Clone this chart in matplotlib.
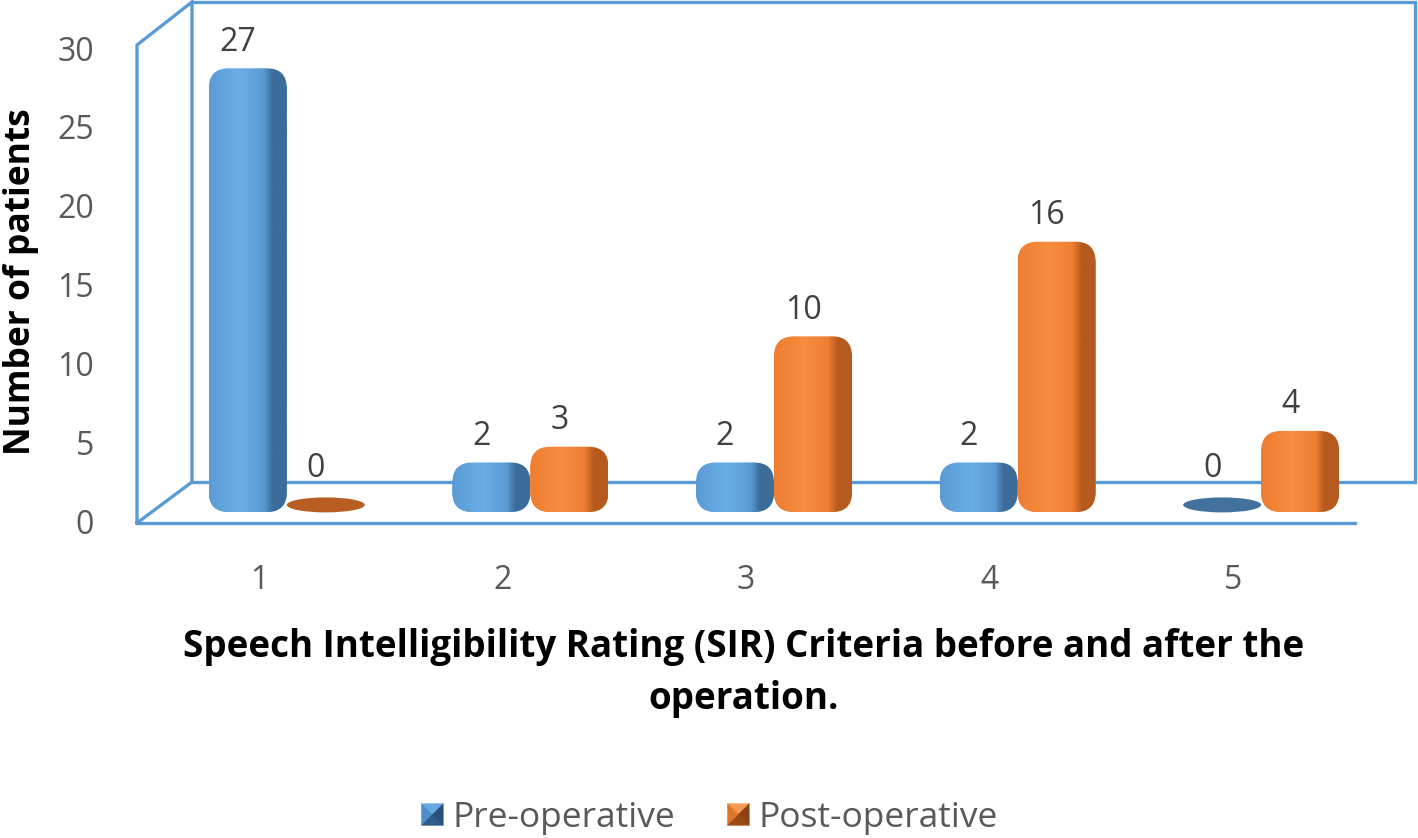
import numpy as np
import matplotlib
matplotlib.use('Agg')
import matplotlib.pyplot as plt
from matplotlib.patches import FancyBboxPatch, Ellipse, Patch, Polygon, BoxStyle
from matplotlib.transforms import ScaledTranslation
from matplotlib.legend_handler import HandlerBase
from matplotlib.colors import LinearSegmentedColormap

# ---------------- data ----------------
categories = ['1', '2', '3', '4', '5']
pre_op = [27, 2, 2, 2, 0]
post_op = [0, 3, 10, 16, 4]
series_names = ['Pre-operative', 'Post-operative']
y_ticks = [0, 5, 10, 15, 20, 25, 30]
x_title = 'Speech Intelligibility Rating (SIR) Criteria before and after the\noperation.'
y_title = 'Number of patients'

# ---------------- style ----------------
plt.rcParams['font.family'] = ['Open Sans', 'DejaVu Sans']
W, H = 1418, 838
fig = plt.figure(figsize=(W / 100, H / 100), dpi=100)

def fx(px):
    return px / W

def fy(py):
    return 1 - py / H

blue = dict(mid='#5B9BD5', light='#6AAEE8', dark='#3C6C9A', flat='#41719C',
            icon=['#6AAAE4', '#4F8FCC', '#2E5C8A', '#27507A'])
orange = dict(mid='#ED7D31', light='#F78E40', dark='#B65A1E', flat='#B85E22',
              icon=['#F59A55', '#E07428', '#9C4B17', '#8A4214'])

# ---------------- 3D frame (decoration) ----------------
frame = fig.add_axes([0, 0, 1, 1], zorder=0)
frame.set_xlim(0, W)
frame.set_ylim(H, 0)
frame.axis('off')
lc = '#5B9BD5'
lw = 2.4
segs = [[(137, 523), (137, 45), (192, 2), (192, 482), (137, 523)],
        [(192, 2), (1415, 2), (1415, 482), (192, 482)],
        [(137, 523), (1355, 523)]]
for s in segs:
    xs, ys = zip(*s)
    frame.plot(xs, ys, color=lc, lw=lw, solid_joinstyle='miter', solid_capstyle='projecting')

# ---------------- main axes ----------------
ax = fig.add_axes([fx(137), fy(521), fx(1355) - fx(137), fy(48) - fy(521)], zorder=1)
ax.patch.set_visible(False)
ax.set_xlim(0.5, 5.5)
ax.set_ylim(0, 30)
for sp in ax.spines.values():
    sp.set_visible(False)
ax.set_yticks(y_ticks)
ax.set_xticks(np.arange(1, len(categories) + 1))
ax.set_xticklabels(categories)
ax.tick_params(length=0, labelsize=23, labelcolor='#595959')
ax.tick_params(axis='x', pad=31)
ax.tick_params(axis='y', pad=31)

px_x = (1355 - 137) / 5.0
px_y = (521 - 48) / 30.0
shift = ax.transData + ScaledTranslation(28 / 100, 9 / 100, fig.dpi_scale_trans)
bw = 78 / px_x
cap = 18 / px_y
rr = 20 / px_x
asp = px_x / px_y

x = np.arange(1, len(categories) + 1)
grad = np.linspace(0, 1, 256).reshape(1, -1)


def draw_series(xpos, vals, c):
    cmap = LinearSegmentedColormap.from_list(
        'g', [(0, c['mid']), (0.40, c['light']), (0.70, c['mid']),
              (0.82, c['dark']), (1.0, c['dark'])])
    bars = ax.bar(xpos, vals, bw, transform=shift, color=c['mid'], lw=0, zorder=2)
    for rect, v in zip(bars, vals):
        x0 = rect.get_x()
        if v > 0:
            rp = FancyBboxPatch((x0, 0), bw, v + cap,
                                boxstyle=BoxStyle.Round(pad=0, rounding_size=rr),
                                mutation_aspect=asp, transform=shift,
                                facecolor='none', edgecolor='none', zorder=2)
            ax.add_patch(rp)
            rect.set_clip_path(rp)
            im = ax.imshow(grad, cmap=cmap, extent=[x0, x0 + bw, 0, v + cap],
                           aspect='auto', origin='lower', transform=shift,
                           zorder=3, interpolation='bilinear')
            im.set_clip_path(rp)
        else:
            e = Ellipse((x0 + bw / 2, 0.45), width=bw, height=15 / px_y,
                        transform=shift, facecolor=c['flat'], edgecolor='none', zorder=2)
            ax.add_patch(e)
    for rect, v in zip(bars, vals):
        xc = rect.get_x() + bw / 2
        ax.annotate(str(v), (xc, v), xycoords=shift, xytext=(-10, 44),
                    textcoords='offset pixels', ha='center', va='center',
                    fontsize=23, color='#404040', zorder=5)
    return bars


b1 = draw_series(x - bw / 2, pre_op, blue)
b2 = draw_series(x + bw / 2, post_op, orange)
ax.set_xlim(0.5, 5.5)
ax.set_ylim(0, 30)

# ---------------- titles ----------------
fig.text(fx(21), fy(282), y_title, rotation=90, ha='center', va='center',
         fontsize=25.5, fontweight='bold', color='black')
fig.text(fx(744), fy(673), x_title, ha='center', va='center', fontsize=26.5,
         fontweight='bold', color='black', linespacing=1.5)


# ---------------- legend ----------------
class BevelHandler(HandlerBase):
    def __init__(self, cols):
        super().__init__()
        self.cols = cols

    def create_artists(self, legend, orig_handle, xdescent, ydescent, width, height, fontsize, trans):
        s = height
        x0 = -xdescent + (width - s) / 2
        y0 = -ydescent
        x1, y1 = x0 + s, y0 + s
        cx, cy = (x0 + x1) / 2, (y0 + y1) / 2
        top, left, bottom, right = self.cols
        tris = [[(x0, y1), (x1, y1), (cx, cy)],
                [(x0, y0), (x0, y1), (cx, cy)],
                [(x0, y0), (x1, y0), (cx, cy)],
                [(x1, y0), (x1, y1), (cx, cy)]]
        arts = []
        for t, col in zip(tris, [top, left, bottom, right]):
            p = Polygon(t, closed=True, facecolor=col, edgecolor=col, lw=0.3, transform=trans)
            arts.append(p)
        return arts


h1 = Patch(facecolor=blue['mid'])
h2 = Patch(facecolor=orange['mid'])
leg = fig.legend([h1, h2], series_names, loc='center', bbox_to_anchor=(fx(710), fy(818)),
                 ncol=2, frameon=False, fontsize=25.5, labelcolor='#595959',
                 handlelength=0.57, handleheight=0.57, handletextpad=0.28,
                 columnspacing=1.5,
                 handler_map={h1: BevelHandler(blue['icon']), h2: BevelHandler(orange['icon'])})

fig.savefig('out.png', dpi=100)
